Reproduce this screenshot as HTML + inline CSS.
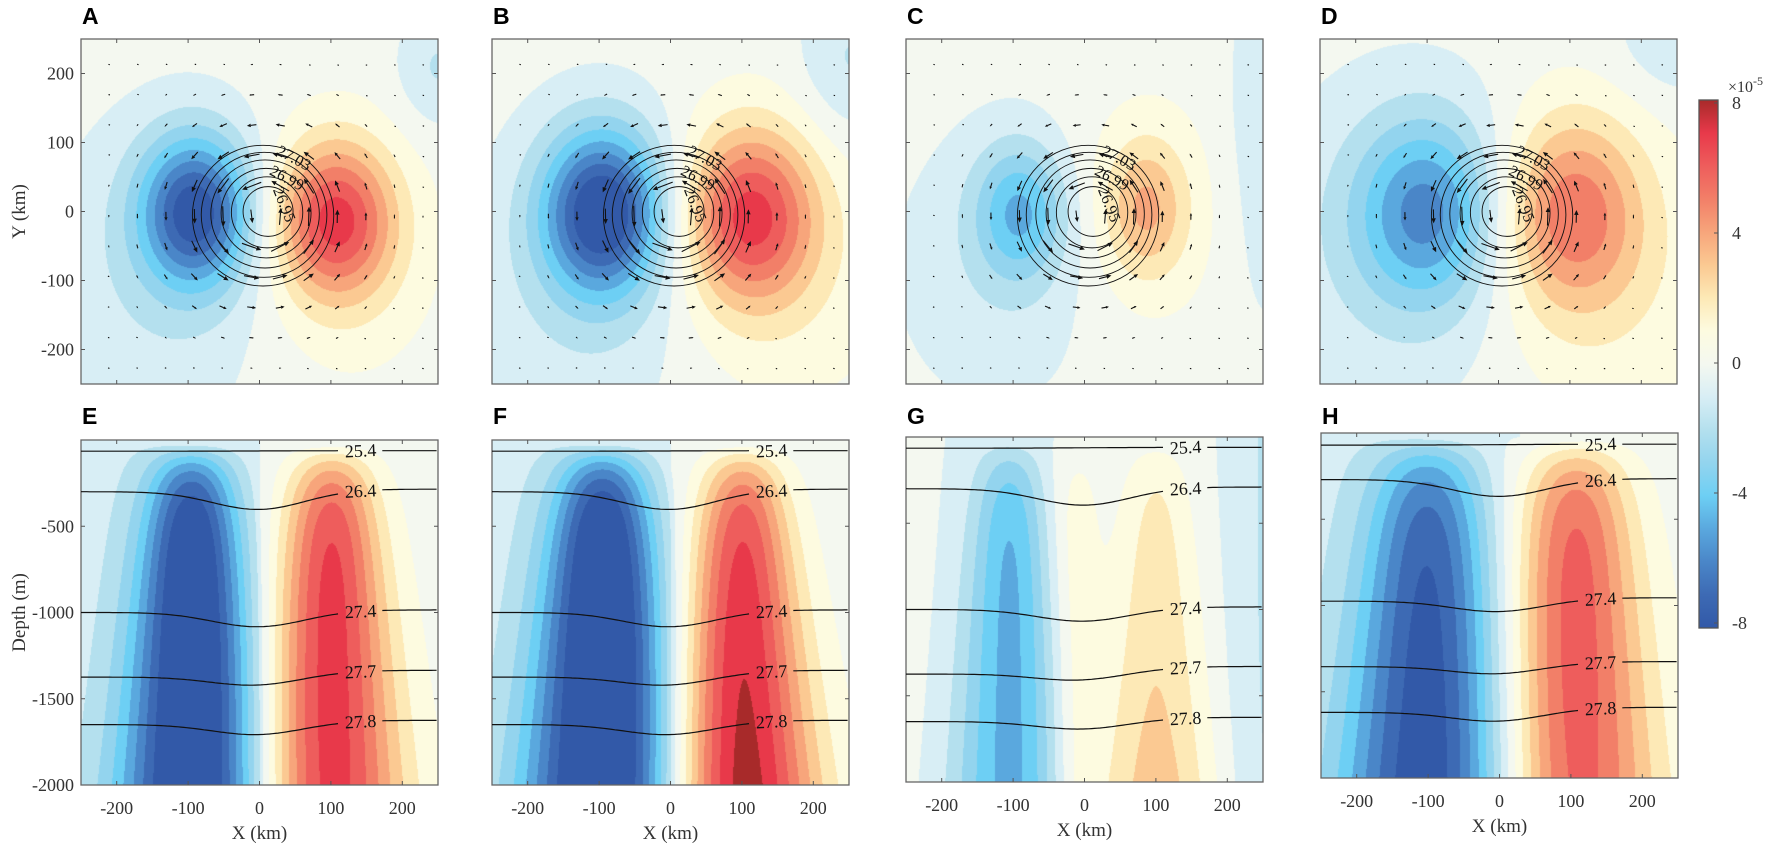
<!DOCTYPE html>
<html><head><meta charset="utf-8">
<style>
html,body{margin:0;padding:0;background:#fff;}
#wrap{position:relative;width:1772px;height:843px;overflow:hidden;}
canvas{position:absolute;}
svg{position:absolute;left:0;top:0;}
</style></head>
<body><div id="wrap"></div>
<script>
var W=1772,H=843,PW=357,PH=345;
var wrap=document.getElementById('wrap');
function sq(a){return a*a;}
var NEG=['#d8eef5','#b4e0ee','#93d4ee','#6dcff4','#5aa8de','#4a86c8','#3d6ab4','#3259a8'];
var POS=['#fdfbe0','#fde9b6','#fbc992','#f7a57b','#f27f68','#ee5d5c','#e8394a','#a82a2a'];
var BG='#f4f8f0';
function hex(c){return [parseInt(c.substr(1,2),16),parseInt(c.substr(3,2),16),parseInt(c.substr(5,2),16)];}
var NEGr=NEG.map(hex),POSr=POS.map(hex),BGr=hex(BG);
function col(v){var a=Math.abs(v);if(a<0.5)return BGr;var k=Math.min(8,Math.ceil(a-0.5));return v<0?NEGr[k-1]:POSr[k-1];}
function drawField(left,top,f){
 var c=document.createElement('canvas');c.width=PW;c.height=PH;c.style.left=left+'px';c.style.top=top+'px';
 var ctx=c.getContext('2d');var im=ctx.createImageData(PW,PH);
 for(var j=0;j<PH;j++)for(var i=0;i<PW;i++){var v=f(i,j);var cc=col(v);var p=(j*PW+i)*4;im.data[p]=cc[0];im.data[p+1]=cc[1];im.data[p+2]=cc[2];im.data[p+3]=255;}
 ctx.putImageData(im,0,0);wrap.appendChild(c);
}
function g2(x,y,b){var dx=x-b[0],dy=y-b[1];return b[2]*Math.exp(-(dx*dx/(2*b[3]*b[3])+dy*dy/(2*b[4]*b[4])));}
function ga(x,c,s){return Math.exp(-sq(x-c)/(2*s*s));}
var tops=[
 {L:81,T:39,letter:'A',blobs:[[-90,0,-7.6,55,78],[105,-10,6.4,58,80],[-150,-100,-1.3,120,170],[120,-80,1.0,90,120],[250,210,-1.6,40,60]]},
 {L:492,T:39,letter:'B',blobs:[[-95,0,-8.3,60,85],[110,-5,6.5,65,90],[-120,-120,-1.3,130,170],[150,-100,1.1,120,140],[250,220,-1.6,50,80]]},
 {L:906,T:39,letter:'C',blobs:[[-90,0,-4.0,45,70],[85,5,3.0,40,70],[-120,-80,-1.2,110,150],[80,0,1.0,90,120],[250,100,-1.2,40,200]]},
 {L:1320,T:39,letter:'D',blobs:[[-100,0,-5.0,70,95],[100,0,4.8,70,100],[-150,-50,-1.3,140,180],[150,-100,1.2,120,150],[250,250,-1.4,60,60]]}
];
tops.forEach(function(p){drawField(p.L,p.T,function(i,j){var x=-250+i/PW*500,y=250-j/PH*500;var v=0;p.blobs.forEach(function(b){v+=g2(x,y,b);});return v;});});
function PP(d){return 1-Math.exp(-Math.max(0,d-20)/220);}
var bots=[
 {L:81,T:440,letter:'E',f:function(x,d){var s=40+30*d/2000;return PP(d)*(-8.6*ga(x,-95,s)+7.1*ga(x,100,s))-1.2*ga(x,-160,150)*(x<0?1:0.3);}},
 {L:492,T:440,letter:'F',f:function(x,d){var s=42+35*d/2000;return PP(d)*(-9.0*ga(x,-95,s)+(6.9+1.4*Math.pow(d/2000,1.5))*ga(x,100,s-4))-1.2*ga(x,-160,150)*(x<0?1:0.3);}},
 {L:906,T:437,letter:'G',f:function(x,d){var s=30+25*d/2000;return PP(d)*(-3.9*ga(x,-105,s)+(2.0+1.0*sq(d/2000))*ga(x,100,28+30*d/2000)+1.4*ga(x,-15,25))-1.6*ga(x,260,50)-0.9*ga(x,-120,70);}},
 {L:1321,T:433,letter:'H',f:function(x,d){var s=50+35*d/2000;return PP(d)*(-(6.2+1.2*d/2000)*ga(x,-100,s)+6.3*ga(x,105,50+30*d/2000))-1.2*ga(x,-170,150);}}
];
bots.forEach(function(p){drawField(p.L,p.T,function(i,j){var x=-250+i/PW*500,d=j/PH*2000;return p.f(x,d);});});

var s='<svg width="'+W+'" height="'+H+'" xmlns="http://www.w3.org/2000/svg" font-family="Liberation Serif, serif">';
var tickc='#555';
function frame(L,T,yt){
 var o='<rect x="'+L+'" y="'+T+'" width="'+PW+'" height="'+PH+'" fill="none" stroke="#666" stroke-width="1.3"/>';
 [-200,-100,0,100,200].forEach(function(k){var x=L+(k+250)/500*PW;o+='<line x1="'+x+'" y1="'+T+'" x2="'+x+'" y2="'+(T+4)+'" stroke="'+tickc+'"/><line x1="'+x+'" y1="'+(T+PH)+'" x2="'+x+'" y2="'+(T+PH-4)+'" stroke="'+tickc+'"/>';});
 yt.forEach(function(y){o+='<line x1="'+L+'" y1="'+y+'" x2="'+(L+4)+'" y2="'+y+'" stroke="'+tickc+'"/><line x1="'+(L+PW)+'" y1="'+y+'" x2="'+(L+PW-4)+'" y2="'+y+'" stroke="'+tickc+'"/>';});
 return o;
}
function arrow(x1,y1,x2,y2){
 var dx=x2-x1,dy=y2-y1,l=Math.hypot(dx,dy);
 if(l<2.2){return '<line x1="'+(x1-0.6)+'" y1="'+y1+'" x2="'+(x1+0.8)+'" y2="'+(y1+0.4)+'" stroke="#111" stroke-width="1.1"/>';}
 var ux=dx/l,uy=dy/l,h=Math.min(5,l*0.4);
 var bx=x2-ux*h,by=y2-uy*h;
 return '<line x1="'+x1+'" y1="'+y1+'" x2="'+bx+'" y2="'+by+'" stroke="#111" stroke-width="1.1"/><polygon points="'+x2+','+y2+' '+(bx-uy*h*0.45)+','+(by+ux*h*0.45)+' '+(bx+uy*h*0.45)+','+(by-ux*h*0.45)+'" fill="#111"/>';
}
var amp=[1,1.05,0.85,0.95];
tops.forEach(function(p,pi){
 var L=p.L,T=p.T,X=function(x){return L+(x+250)/500*PW;},Y=function(y){return T+(250-y)/500*PH;};
 var yt=[200,100,0,-100,-200].map(Y);
 s+=frame(L,T,yt);
 for(var yk=213;yk>-250;yk-=44)for(var xk=-211;xk<250;xk+=40){
  var r=Math.hypot(xk-5,yk+5)+1e-6;var sp=18*amp[pi]*(r/75)*Math.pow(Math.exp(1-r/75),1.6);
  var u=-(yk+5)/r*sp,v=(xk-5)/r*sp;
  var cx=X(xk),cy=Y(yk);
  s+=arrow(cx-u/2,cy+v/2,cx+u/2,cy-v/2);
 }
 var rs=[99,88,76,63,50,35];
 rs.forEach(function(r,k){var cx=5+k*1.4,cy=-6+k*1.2;s+='<ellipse cx="'+X(cx)+'" cy="'+Y(cy)+'" rx="'+(r/500*PW)+'" ry="'+(r*1.03/500*PH)+'" fill="none" stroke="#111" stroke-width="0.9"/>';});
 var x0=X(0),y0=Y(0);
 s+='<g font-size="16" fill="#111"><text transform="translate('+(x0+32)+','+(y0-49)+') rotate(28)" text-anchor="middle">27.03</text>';
 s+='<text transform="translate('+(x0+25)+','+(y0-29)+') rotate(28)" text-anchor="middle">26.99</text>';
 s+='<text transform="translate('+(x0+20)+','+(y0-5)+') rotate(68)" text-anchor="middle">26.95</text></g>';
 s+='<text x="'+(L+1)+'" y="24" font-family="Liberation Sans, sans-serif" font-weight="bold" font-size="23" fill="#000">'+p.letter+'</text>';
 if(pi==0){[200,100,0,-100,-200].forEach(function(v){s+='<text x="'+(L-7)+'" y="'+(Y(v)+6)+'" font-size="18" fill="#333" text-anchor="end">'+v+'</text>';});
  s+='<text transform="translate(25,'+Y(0)+') rotate(-90)" font-size="19" fill="#333" text-anchor="middle">Y (km)</text>';}
});
var iso=[['25.4',65,0,62],['26.4',300,110,285],['27.4',1000,90,985],['27.7',1375,65,1335],['27.8',1650,70,1625]];
var isoG=[['25.4',65,0,60],['26.4',300,100,290],['27.4',1000,75,985],['27.7',1375,55,1330],['27.8',1650,55,1625]];
var isoH=[['25.4',70,0,65],['26.4',270,100,265],['27.4',975,70,955],['27.7',1355,55,1325],['27.8',1620,65,1590]];
bots.forEach(function(p,pi){
 var L=p.L,T=p.T,X=function(x){return L+(x+250)/500*PW;},Y=function(d){return T+d/2000*PH;};
 s+=frame(L,T,[500,1000,1500].map(Y));
 var set=pi==2?isoG:(pi==3?isoH:iso);
 set.forEach(function(q){
  var dep=function(x){return q[1]+(q[3]-q[1])/(1+Math.exp(-x/50))+q[2]*Math.exp(-x*x/(2*65*65));};
  [[-250,112],[172,250]].forEach(function(sg){var pts=[];for(var x=sg[0];x<=sg[1];x+=4)pts.push(X(x).toFixed(1)+','+Y(dep(x)).toFixed(1));s+='<polyline points="'+pts.join(' ')+'" fill="none" stroke="#111" stroke-width="1.2"/>';});
  var lx=142;s+='<text transform="translate('+X(lx)+','+(Y(dep(lx))+6)+') rotate(-3)" font-size="18" fill="#111" text-anchor="middle">'+q[0]+'</text>';
 });
 s+='<text x="'+(L+1)+'" y="424" font-family="Liberation Sans, sans-serif" font-weight="bold" font-size="23" fill="#000">'+p.letter+'</text>';
 [-200,-100,0,100,200].forEach(function(v){s+='<text x="'+X(v)+'" y="'+(T+PH+29)+'" font-size="18" fill="#333" text-anchor="middle">'+v+'</text>';});
 s+='<text x="'+X(0)+'" y="'+(T+PH+54)+'" font-size="19" fill="#333" text-anchor="middle">X (km)</text>';
 if(pi==0){[500,1000,1500,2000].forEach(function(v){s+='<text x="'+(L-7)+'" y="'+(Y(v)+6)+'" font-size="18" fill="#333" text-anchor="end">-'+v+'</text>';});
  s+='<text transform="translate(25,'+Y(1000)+') rotate(-90)" font-size="19" fill="#333" text-anchor="middle">Depth (m)</text>';}
});
var cbT=100,cbB=628,cbL=1699,cbW=19;
var cbc=['#3259a8','#3d6ab4','#4a86c8','#5aa8de','#6dcff4','#93d4ee','#b4e0ee','#d8eef5','#f4f8f0','#fdfbe0','#fde9b6','#fbc992','#f7a57b','#f27f68','#ee5d5c','#e8394a','#a82a2a'];
s+='<defs><linearGradient id="cb" x1="0" y1="1" x2="0" y2="0">';
cbc.forEach(function(c,i){s+='<stop offset="'+(i/16)+'" stop-color="'+c+'"/>';});
s+='</linearGradient></defs>';
s+='<rect x="'+cbL+'" y="'+cbT+'" width="'+cbW+'" height="'+(cbB-cbT)+'" fill="url(#cb)" stroke="#555" stroke-width="1.3"/>';
[[8,103],[4,233],[0,363],[-4,493],[-8,623]].forEach(function(t){s+='<line x1="'+(cbL+cbW-4)+'" y1="'+t[1]+'" x2="'+(cbL+cbW)+'" y2="'+t[1]+'" stroke="#555"/><text x="1732" y="'+(t[1]+6)+'" font-size="18" fill="#333">'+t[0]+'</text>';});
s+='<text x="1728" y="92" font-size="16" fill="#333">×10<tspan dy="-7" font-size="12">-5</tspan></text>';
s+='</svg>';
wrap.insertAdjacentHTML('beforeend',s);
</script>
</body></html>
